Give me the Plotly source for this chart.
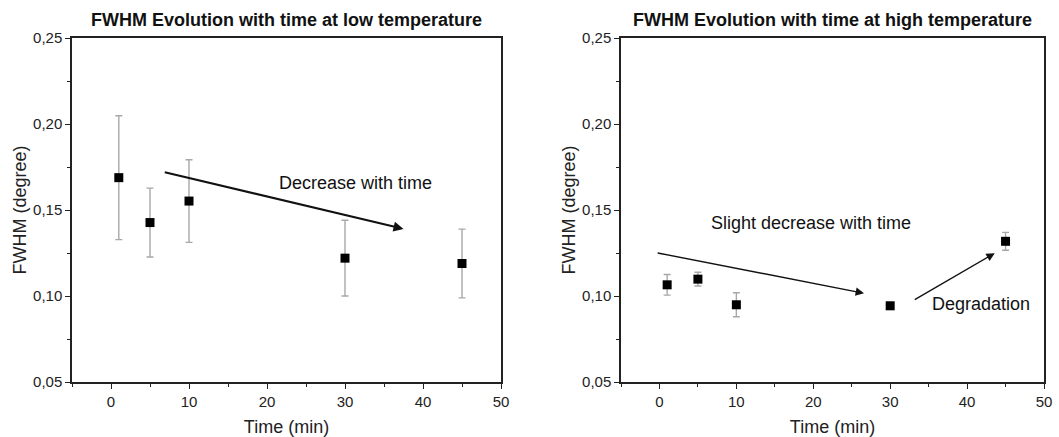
import plotly.graph_objects as go

# Data
time_low = [1, 5, 10, 30, 45]
fwhm_low = [0.1688, 0.1427, 0.1552, 0.1220, 0.1189]
err_low = [0.036, 0.020, 0.024, 0.022, 0.020]

time_high = [1, 5, 10, 30, 45]
fwhm_high = [0.1065, 0.1098, 0.0949, 0.0943, 0.1318]
err_high = [0.006, 0.004, 0.007, 0.002, 0.0052]

titles = ["FWHM Evolution with time at low temperature",
          "FWHM Evolution with time at high temperature"]
y_ticks = [0.05, 0.10, 0.15, 0.20, 0.25]
x_ticks = [0, 10, 20, 30, 40, 50]

W, H = 1059, 437
ml, mr, mt, mb = 72, 15, 38, 55
pw = W - ml - mr

fig = go.Figure()
FONT = "Liberation Sans, Arial, sans-serif"

for i, (tx, fy, ey) in enumerate([(time_low, fwhm_low, err_low),
                                   (time_high, fwhm_high, err_high)]):
    xa = "x" if i == 0 else "x2"
    ya = "y" if i == 0 else "y2"
    fig.add_trace(go.Scatter(
        x=tx, y=fy, mode="markers", xaxis=xa, yaxis=ya,
        marker=dict(symbol="square", size=9, color="black"),
        error_y=dict(type="data", array=ey, visible=True,
                     color="#a8a8a8", thickness=1.4, width=3.5),
        showlegend=False))

dom1 = [0, (501 - ml) / pw]
dom2 = [(621 - ml) / pw, 1.0]

axis_common = dict(showline=True, linecolor="#222", linewidth=1.5, mirror=True,
                   ticks="outside", ticklen=5, tickwidth=1.2, tickcolor="#222",
                   showgrid=False, zeroline=False, automargin=False,
                   tickfont=dict(family=FONT, size=15, color="#222"))

for i, dom in enumerate([dom1, dom2]):
    sfx = "" if i == 0 else "2"
    fig.layout["xaxis" + sfx] = dict(
        axis_common, domain=dom, range=[-5, 50], tickvals=x_ticks,
        minor=dict(dtick=5, tick0=0, ticks="outside", ticklen=3, tickcolor="#222"),
        anchor="y" + sfx,
        title=dict(text="Time (min)", font=dict(family=FONT, size=18, color="#222"), standoff=12))
    fig.layout["yaxis" + sfx] = dict(
        axis_common, domain=[0, 1], range=[0.05, 0.25], tickvals=y_ticks,
        tickformat=".2f",
        minor=dict(dtick=0.025, tick0=0.05, ticks="outside", ticklen=3, tickcolor="#222"),
        anchor="x" + sfx,
        title=dict(text="FWHM (degree)", font=dict(family=FONT, size=18, color="#222"), standoff=2))

annotations = []
for i, dom in enumerate([dom1, dom2]):
    annotations.append(dict(
        text="<b>" + titles[i] + "</b>", xref="paper", yref="paper",
        x=(dom[0] + dom[1]) / 2, y=1, yshift=18, showarrow=False,
        xanchor="center", yanchor="middle",
        font=dict(family=FONT, size=18, color="#111")))

# arrows & texts
annotations += [
    dict(x=37.5, y=0.139, ax=6.7, ay=0.1722, xref="x", yref="y", axref="x", ayref="y",
         showarrow=True, arrowhead=2, arrowsize=1, arrowwidth=2, arrowcolor="#111", text=""),
    dict(x=31.3, y=0.1655, xref="x", yref="y", text="Decrease with time", showarrow=False,
         font=dict(family=FONT, size=18, color="#111")),
    dict(x=26.6, y=0.1016, ax=-0.43, ay=0.1252, xref="x2", yref="y2", axref="x2", ayref="y2",
         showarrow=True, arrowhead=2, arrowsize=1.2, arrowwidth=1.4, arrowcolor="#111", text=""),
    dict(x=43.6, y=0.1249, ax=33.0, ay=0.0974, xref="x2", yref="y2", axref="x2", ayref="y2",
         showarrow=True, arrowhead=2, arrowsize=1.2, arrowwidth=1.4, arrowcolor="#111", text=""),
    dict(x=19.7, y=0.1423, xref="x2", yref="y2", text="Slight decrease with time", showarrow=False,
         font=dict(family=FONT, size=18, color="#111")),
    dict(x=41.8, y=0.0955, xref="x2", yref="y2", text="Degradation", showarrow=False,
         font=dict(family=FONT, size=18, color="#111")),
]

fig.update_layout(
    width=W, height=H, margin=dict(l=ml, r=mr, t=mt, b=mb),
    paper_bgcolor="white", plot_bgcolor="white",
    separators=", ", annotations=annotations,
    font=dict(family=FONT, color="#222"))

fig.write_html("out.html")
